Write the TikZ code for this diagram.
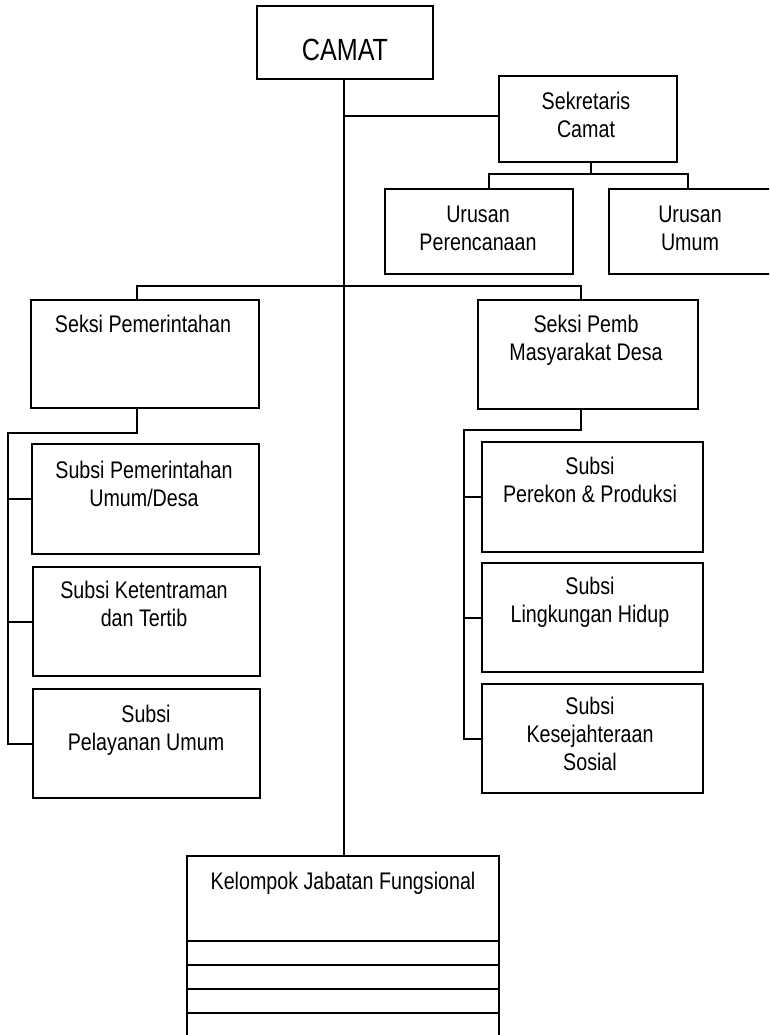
\documentclass[tikz,border=0pt]{standalone}
\usepackage{fontspec}
\setmainfont[FakeStretch=0.82]{Liberation Sans}
\usetikzlibrary{fit}
\begin{document}
\begin{tikzpicture}[x=0.75pt,y=-0.75pt,
  box/.style={draw,line width=1.5pt,inner sep=0pt,rectangle},
  txt/.style={inner sep=0pt,align=center,anchor=base,font=\fontsize{18}{21}\selectfont},
  ln/.style={line width=1.5pt}]
\useasboundingbox (0,0) rectangle (769,1035);
\clip (0,0) rectangle (769,1035);

% boxes
\node[box, fit={(257,6) (433,79)}] (camat) {};
\node[box, fit={(499,76) (677,162)}] (sek) {};
\node[box, fit={(385,189) (573,274)}] (urp) {};
\node[box, fit={(609,189) (790,274)}] (uru) {};
\node[box, fit={(31,300) (259,408)}] (sp) {};
\node[box, fit={(32,444) (259,554)}] (s1) {};
\node[box, fit={(33,567) (260,676)}] (s2) {};
\node[box, fit={(33,689) (260,798)}] (s3) {};
\node[box, fit={(478,300) (698,409)}] (spm) {};
\node[box, fit={(482,442) (703,552)}] (r1) {};
\node[box, fit={(482,563) (703,672)}] (r2) {};
\node[box, fit={(482,684) (703,793)}] (r3) {};
\node[box, fit={(187,856) (499,1050)}] (kel) {};

% texts (anchor = baseline of last line)
\node[inner sep=0pt,anchor=base,font=\fontsize{23}{27}\selectfont] (camat-t) at (345,60) {CAMAT};
\node[txt] (sek-t) at (586,137.3) {Sekretaris\\Camat};
\node[txt] (urp-t) at (478,250) {Urusan\\Perencanaan};
\node[txt] (uru-t) at (690,250) {Urusan\\Umum};
\node[txt] (sp-t) at (143,332.7) {Seksi Pemerintahan};
\node[txt] (s1-t) at (144,506.7) {Subsi Pemerintahan\\Umum/Desa};
\node[txt] (s2-t) at (144,626.7) {Subsi Ketentraman\\dan Tertib};
\node[txt] (s3-t) at (146,750) {Subsi\\Pelayanan Umum};
\node[txt] (spm-t) at (586,360) {Seksi Pemb\\Masyarakat Desa};
\node[txt] (r1-t) at (590,502.7) {Subsi\\Perekon \& Produksi};
\node[txt] (r2-t) at (590,622.7) {Subsi\\Lingkungan Hidup};
\node[txt] (r3-t) at (590,770.7) {Subsi\\Kesejahteraan\\Sosial};
\node[txt] (kel-t) at (343,889.3) {Kelompok Jabatan Fungsional};

% trunk
\coordinate (trunk) at (344,0);
\draw[ln] (camat.south -| trunk) -- (kel.north -| trunk);

% sekretaris
\coordinate (sekj) at (0,116);
\draw[ln] (trunk |- sekj) -- (sek.west |- sekj);
\coordinate (ub) at (591,174);
\coordinate (ubl) at (489,174);
\coordinate (ubr) at (688,174);
\draw[ln] (sek.south -| ub) -- (ub);
\draw[ln] (urp.north -| ubl) -- (ubl) -- (ubr) -- (uru.north -| ubr);

% seksi bar
\coordinate (sbl) at (137,286);
\coordinate (sbr) at (581,286);
\draw[ln] (sp.north -| sbl) -- (sbl) -- (sbr) -- (spm.north -| sbr);

% left branch
\coordinate (lj) at (137,433);
\coordinate (lv) at (8,433);
\draw[ln] (sp.south -| lj) -- (lj) -- (lv) -- (lv |- s3.west) -- (s3.west);
\draw[ln] (lv |- s1.west) -- (s1.west);
\draw[ln] (lv |- s2.west) -- (s2.west);

% right branch
\coordinate (rj) at (581,430);
\coordinate (rv) at (464,430);
\draw[ln] (spm.south -| rj) -- (rj) -- (rv) -- (rv |- r3.west) -- (r3.west);
\draw[ln] (rv |- r1.west) -- (r1.west);
\draw[ln] (rv |- r2.west) -- (r2.west);

% kelompok rows
\foreach \yy in {941,965,989,1013}
  \draw[ln] (kel.west |- 0,\yy) -- (kel.east |- 0,\yy);
\end{tikzpicture}
\end{document}
